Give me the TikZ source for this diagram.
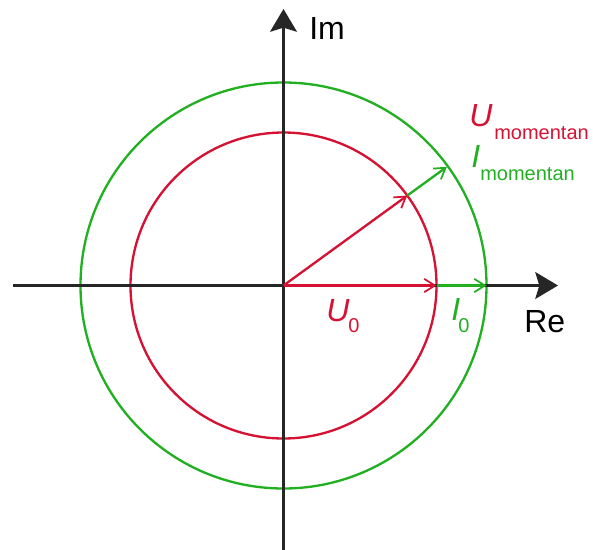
\documentclass[tikz,border=0pt]{standalone}
\usepackage{fontspec}
\setmainfont{Liberation Sans}
\usetikzlibrary{arrows.meta,calc}
\definecolor{vred}{RGB}{214,18,52}
\definecolor{vgreen}{RGB}{34,176,34}
\tikzset{
  axis/.style={line width=2.4pt,black!85,-{Stealth[length=17pt,width=20pt,inset=3pt]}},
  circ/.style={line width=1.75pt},
  vec/.style={line width=1.75pt,-{Straight Barb[length=8pt,width=10pt,line width=1.3pt]}},
  big/.style={inner sep=0pt,anchor=base west,font=\fontsize{24}{24}\selectfont},
  small/.style={inner sep=0pt,anchor=base west,font=\fontsize{15}{15}\selectfont},
}
\begin{document}
\begin{tikzpicture}[x=0.75pt,y=-0.75pt]
\useasboundingbox (0,0) rectangle (593,550);
\coordinate (O) at (283.5,285.5);
\coordinate (xl) at (13,285.5);
\coordinate (xr) at (558,285.5);
\coordinate (yb) at (283.5,552);
\coordinate (yt) at (283.5,9);
% circles
\draw[circ,vgreen] (O) circle (203);
\draw[circ,vred] (O) circle (153);
% axes
\draw[axis] (xl) -- (xr);
\draw[axis] (yb) -- (yt);
% vectors
\coordinate (Ur) at ($(O)+(-36:153)$);
\coordinate (Ir) at ($(O)+(-36:202)$);
\coordinate (U0) at ($(O)+(153,0)$);
\coordinate (I0) at ($(O)+(203,0)$);
\draw[vec,vgreen] (Ur) -- (Ir);
\draw[vec,vgreen] (U0) -- (I0);
\draw[vec,vred] (O) -- (Ur);
\draw[vec,vred] (O) -- (U0);
% labels
\node[big] (im) at (309,39) {Im};
\node[big] (re) at (524,332) {Re};
\node[big,vred] (um) at (469,126) {\itshape U};
\node[small,vred] (ums) at (494,139) {momentan};
\node[big,vgreen] (imm) at (471,167) {\itshape I};
\node[small,vgreen] (imms) at (480,180) {momentan};
\node[big,vred] (u0) at (326,321) {\itshape U};
\node[small,vred] (u0s) at (348,332) {0};
\node[big,vgreen] (i0) at (451,320) {\itshape I};
\node[small,vgreen] (i0s) at (458,332) {0};
\end{tikzpicture}
\end{document}
